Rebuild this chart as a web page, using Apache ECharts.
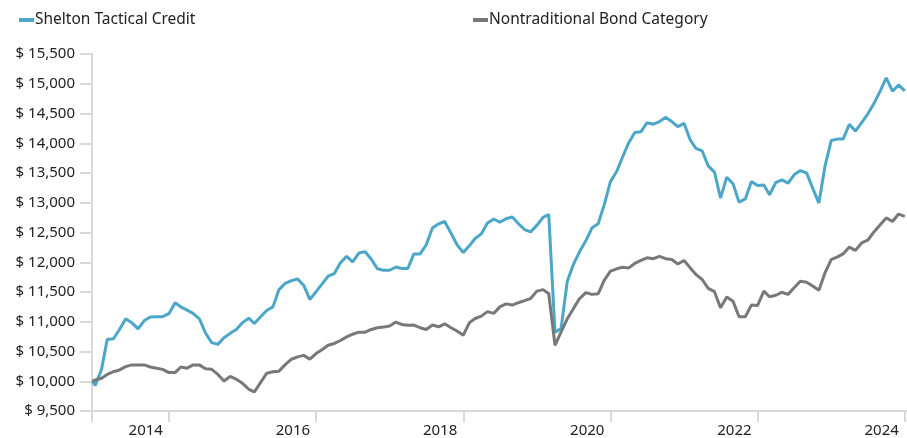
<!DOCTYPE html>
<html>
<head>
<meta charset="utf-8">
<script src="https://cdn.jsdelivr.net/npm/echarts@6/dist/echarts.min.js"></script>
<style>
  html, body { margin: 0; padding: 0; background: #ffffff; }
  #chart { width: 907px; height: 438px; }
</style>
</head>
<body>
<div id="chart"></div>
<script>
// ---- data ----
const seriesNames = ['Shelton Tactical Credit', 'Nontraditional Bond Category'];
const startDate = '2012-12-17';          // first point, then month-ends from Dec 2012
const firstMonthEnd = [2012, 12];        // year, month of first month-end point
const tickYears = [2014, 2016, 2018, 2020, 2022, 2024];
const tickLabels = ['2014', '2016', '2018', '2020', '2022', '2024'];
const yTicks = [9500, 15500, 500];       // min, max, step

const shelton = [10000,
  9930, 10200, 10700, 10715, 10870, 11050, 10985, 10880, 11020, 11080,
  11085, 11085, 11135, 11320, 11250, 11195, 11140, 11050, 10815, 10650,
  10620, 10730, 10805, 10870, 10985, 11060, 10970, 11085, 11190, 11250,
  11540, 11645, 11690, 11720, 11610, 11375, 11505, 11640, 11765, 11810,
  11990, 12100, 12005, 12155, 12175, 12055, 11890, 11865, 11865, 11920,
  11895, 11895, 12140, 12140, 12290, 12575, 12645, 12685, 12490, 12295,
  12165, 12280, 12400, 12480, 12660, 12725, 12675, 12730, 12760, 12650,
  12550, 12510, 12620, 12755, 12800, 10825, 10885, 11680, 11960, 12180,
  12360, 12575, 12645, 12965, 13355, 13525, 13765, 14010, 14180, 14195,
  14345, 14320, 14365, 14435, 14365, 14280, 14335, 14055, 13915, 13870,
  13620, 13515, 13080, 13430, 13320, 13010, 13065, 13355, 13290, 13300,
  13135, 13340, 13385, 13330, 13470, 13540, 13500, 13245, 12995, 13610,
  14045, 14070, 14070, 14320, 14205, 14345, 14490, 14670, 14875, 15100,
  14875, 14980, 14880];

const category = [10000,
  10020, 10050, 10115, 10160, 10190, 10245, 10275, 10275, 10275, 10240,
  10220, 10200, 10145, 10145, 10240, 10220, 10275, 10275, 10210, 10200,
  10115, 10005, 10080, 10035, 9965, 9865, 9820, 9980, 10135, 10160,
  10170, 10280, 10370, 10410, 10435, 10370, 10465, 10535, 10605, 10635,
  10685, 10745, 10790, 10825, 10825, 10870, 10900, 10910, 10930, 10995,
  10955, 10940, 10945, 10900, 10870, 10945, 10915, 10965, 10900, 10845,
  10775, 10985, 11055, 11095, 11170, 11140, 11250, 11300, 11280, 11320,
  11355, 11390, 11515, 11540, 11470, 10605, 10825, 11050, 11220, 11390,
  11490, 11460, 11470, 11695, 11850, 11890, 11915, 11905, 11980, 12030,
  12075, 12060, 12100, 12060, 12045, 11970, 12030, 11905, 11795, 11710,
  11560, 11505, 11235, 11415, 11345, 11085, 11085, 11280, 11275, 11515,
  11420, 11445, 11495, 11460, 11570, 11680, 11665, 11600, 11530, 11820,
  12045, 12090, 12140, 12255, 12200, 12325, 12370, 12510, 12630, 12745,
  12685, 12810, 12770];

// ---- date handling: dates as decimal years ----
function decYear(y, m, d) {
  const t0 = Date.UTC(y, 0, 1), t1 = Date.UTC(y + 1, 0, 1);
  return y + (Date.UTC(y, m - 1, d) - t0) / (t1 - t0);
}
const sd = startDate.split('-').map(Number);
const dates = [decYear(sd[0], sd[1], sd[2])];
for (let i = 0; i < shelton.length - 1; i++) {
  let y = firstMonthEnd[0], m = firstMonthEnd[1] + i;
  y += Math.floor((m - 1) / 12); m = ((m - 1) % 12) + 1;
  // month-end = first day of next month
  const ny = m === 12 ? y + 1 : y, nm = m === 12 ? 1 : m + 1;
  dates.push(decYear(ny, nm, 1));
}
const xMin = dates[0] - 0.004;
const xMax = 2024.03;

const FONT = 'Noto Sans';
const axisGrey = '#d9d9d9';
const textCol = '#222222';

const chart = echarts.init(document.getElementById('chart'), null, { renderer: 'canvas' });
chart.setOption({
  animation: false,
  backgroundColor: '#ffffff',
  textStyle: { fontFamily: FONT },
  legend: [
    { data: [seriesNames[0]], left: 14, top: 7, itemWidth: 15, itemHeight: 4, icon: 'rect',
      textStyle: { fontFamily: FONT, fontSize: 15.5, color: textCol, padding: [0, 0, 0, -4] } },
    { data: [seriesNames[1]], left: 468, top: 7, itemWidth: 15, itemHeight: 4, icon: 'rect',
      textStyle: { fontFamily: FONT, fontSize: 15.5, color: textCol, padding: [0, 0, 0, -4] } }
  ],
  grid: { left: 92, right: 0, top: 54, bottom: 26, containLabel: false },
  xAxis: {
    type: 'value',
    min: xMin, max: xMax,
    axisLine: { show: true, lineStyle: { color: axisGrey, width: 2 } },
    axisTick: { show: true, length: 11, lineStyle: { color: axisGrey, width: 2 },
      customValues: [xMin].concat(tickYears) },
    axisLabel: {
      customValues: tickYears,
      formatter: v => tickLabels[tickYears.indexOf(Math.round(v))] || '',
      align: 'right', padding: [0, 6, 0, 0], margin: 12,
      fontFamily: FONT, fontSize: 15, color: textCol
    },
    splitLine: { show: false }
  },
  yAxis: {
    type: 'value',
    min: yTicks[0], max: yTicks[1], interval: yTicks[2],
    axisLine: { show: true, lineStyle: { color: axisGrey, width: 2 } },
    axisTick: { show: true, length: 12, lineStyle: { color: axisGrey, width: 2 } },
    axisLabel: {
      margin: 17, fontFamily: FONT, fontSize: 15, color: textCol,
      formatter: v => '$ ' + v.toLocaleString('en-US')
    },
    splitLine: { show: false }
  },
  series: [
    { name: seriesNames[0], type: 'line', showSymbol: false, symbol: 'none',
      color: '#4ba6c8', lineStyle: { width: 3, color: '#4ba6c8' },
      data: shelton.map((v, i) => [dates[i], v]) },
    { name: seriesNames[1], type: 'line', showSymbol: false, symbol: 'none',
      color: '#787878', lineStyle: { width: 3, color: '#787878' },
      data: category.map((v, i) => [dates[i], v]) }
  ]
});
</script>
</body>
</html>
